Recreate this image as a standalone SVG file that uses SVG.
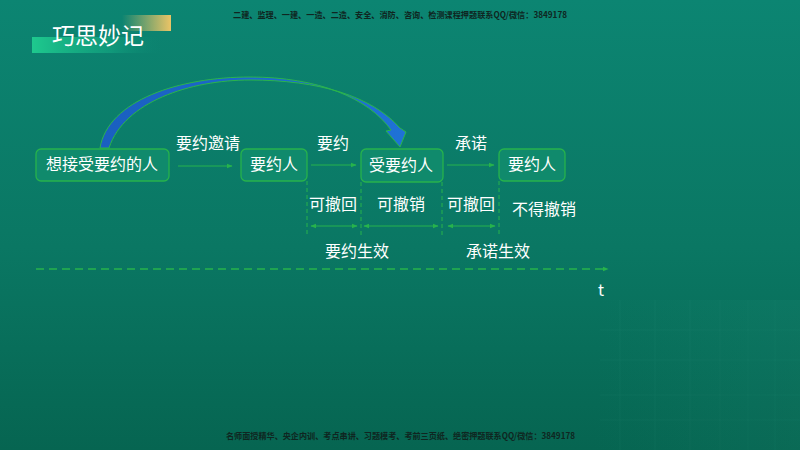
<svg xmlns="http://www.w3.org/2000/svg" width="800" height="450" viewBox="0 0 800 450">
  <defs>
    <linearGradient id="bg" x1="0" y1="0" x2="0" y2="1">
      <stop offset="0" stop-color="#0c8572"/>
      <stop offset="0.55" stop-color="#0a7763"/>
      <stop offset="1" stop-color="#066551"/>
    </linearGradient>
    <linearGradient id="greenBar" x1="0" y1="0" x2="1" y2="0">
      <stop offset="0" stop-color="#1ec98e"/>
      <stop offset="0.6" stop-color="#14a882" stop-opacity="0.6"/>
      <stop offset="1" stop-color="#0c8572" stop-opacity="0"/>
    </linearGradient>
    <linearGradient id="goldBar" x1="0" y1="0" x2="1" y2="0">
      <stop offset="0" stop-color="#e9c46a" stop-opacity="0"/>
      <stop offset="1" stop-color="#ebc466"/>
    </linearGradient>
    <linearGradient id="blueArc" x1="0" y1="0" x2="1" y2="0">
      <stop offset="0" stop-color="#1a5fc0"/>
      <stop offset="1" stop-color="#1f72d6"/>
    </linearGradient>
    <linearGradient id="gridFade" x1="0" y1="0" x2="1" y2="0">
      <stop offset="0" stop-color="#3fb59a" stop-opacity="0"/>
      <stop offset="1" stop-color="#3fb59a" stop-opacity="0.18"/>
    </linearGradient>
    <marker id="ah" viewBox="0 0 10 10" refX="9" refY="5" markerWidth="6" markerHeight="6" orient="auto-start-reverse" markerUnits="userSpaceOnUse">
      <path d="M0,1 L10,5 L0,9 Z" fill="#27b34c"/>
    </marker>
    <style>
      .bg { fill: url(#bg); }
      .node rect { fill: #108a6c; stroke: #27b34c; stroke-width: 1.3; }
      .txt { font-family: "Noto Sans CJK SC", "Noto Sans", sans-serif; fill: #ffffff; font-size: 16px; text-anchor: middle; }
      .wm { font-family: "Noto Sans CJK SC", sans-serif; fill: #0f2621; font-size: 8.5px; font-weight: bold; }
      .arrow { stroke: #27b34c; stroke-width: 1; fill: none; marker-end: url(#ah); }
      .darrow { stroke: #27b34c; stroke-width: 1; fill: none; marker-end: url(#ah); marker-start: url(#ah); }
      .vdash { stroke: #27b34c; stroke-width: 1; stroke-dasharray: 4 3; fill: none; }
      .axis { stroke: #27b34c; stroke-width: 1.3; stroke-dasharray: 8 5; fill: none; marker-end: url(#ah); }
      .grid line { stroke: url(#gridFade); stroke-width: 1; }
    </style>
  </defs>

  <rect class="bg" x="0" y="0" width="800" height="450"/>

  <!-- faint background texture -->
  <g class="grid" opacity="0.8">
    <rect x="560" y="300" width="240" height="150" fill="url(#gridFade)" opacity="0.5"/>
    <path d="M620,300 V450 M655,300 V450 M690,300 V450 M720,300 V450 M748,300 V450 M775,300 V450 M600,330 H800 M600,360 H800 M600,395 H800 M600,420 H800" stroke="#4cc2a3" stroke-opacity="0.08" fill="none"/>
  </g>

  <!-- header -->
  <g id="header">
    <rect x="32" y="37" width="131" height="16" fill="url(#greenBar)"/>
    <rect x="122" y="15" width="49" height="16" fill="url(#goldBar)"/>
    <text x="52" y="44" font-family="Noto Sans CJK SC, sans-serif" font-size="23" fill="#ffffff">巧思妙记</text>
  </g>
  <text class="wm" x="233" y="18" textLength="334" lengthAdjust="spacingAndGlyphs">二建、监理、一建、一造、二造、安全、消防、咨询、检测课程押题联系QQ/微信：3849178</text>
  <text class="wm" x="226" y="439" textLength="349" lengthAdjust="spacingAndGlyphs">名师面授精华、央企内训、考点串讲、习题模考、考前三页纸、绝密押题联系QQ/微信：3849178</text>

  <!-- connectors -->
  <g id="connectors">
    <path d="M100,148 C108,100 180,77 250,77 C318,77 368,98 391,130 L386,131 L400,147 L406,132 L400,128 C372,96 318,80 250,80 C190,80 124,102 109,148 Z" fill="url(#blueArc)" stroke="#2ab54a" stroke-width="1"/>
    <line class="arrow" x1="178" y1="166" x2="232" y2="166"/>
    <line class="arrow" x1="311" y1="165" x2="356" y2="165"/>
    <line class="arrow" x1="447" y1="165" x2="494" y2="165"/>
    <line class="vdash" x1="307" y1="181" x2="307" y2="237"/>
    <line class="vdash" x1="361" y1="182" x2="361" y2="237"/>
    <line class="vdash" x1="442" y1="182" x2="442" y2="237"/>
    <line class="vdash" x1="499" y1="181" x2="499" y2="237"/>
    <line class="darrow" x1="311" y1="226" x2="357" y2="226"/>
    <line class="darrow" x1="364" y1="226" x2="438" y2="226"/>
    <line class="darrow" x1="448" y1="226" x2="495" y2="226"/>
    <line class="axis" x1="36" y1="269" x2="608" y2="269"/>
  </g>

  <!-- nodes -->
  <g id="node-offeree-want" class="node">
    <rect x="36" y="149" width="133" height="32" rx="5"/>
    <text class="txt" x="102" y="170">想接受要约的人</text>
  </g>
  <g id="node-offeror1" class="node">
    <rect x="241" y="149" width="66" height="32" rx="5"/>
    <text class="txt" x="274" y="170">要约人</text>
  </g>
  <g id="node-offeree" class="node">
    <rect x="361" y="149" width="82" height="33" rx="5"/>
    <text class="txt" x="401" y="171">受要约人</text>
  </g>
  <g id="node-offeror2" class="node">
    <rect x="499" y="149" width="66" height="32" rx="5"/>
    <text class="txt" x="532" y="170">要约人</text>
  </g>

  <!-- labels -->
  <g id="labels">
    <text class="txt" x="208" y="149">要约邀请</text>
    <text class="txt" x="333" y="149">要约</text>
    <text class="txt" x="471" y="149">承诺</text>
    <text class="txt" x="333" y="210">可撤回</text>
    <text class="txt" x="401" y="210">可撤销</text>
    <text class="txt" x="471" y="210">可撤回</text>
    <text class="txt" x="544" y="215">不得撤销</text>
    <text class="txt" x="357" y="257">要约生效</text>
    <text class="txt" x="498" y="257">承诺生效</text>
    <text class="txt" x="601" y="296" font-family="Liberation Sans, sans-serif">t</text>
  </g>
</svg>
